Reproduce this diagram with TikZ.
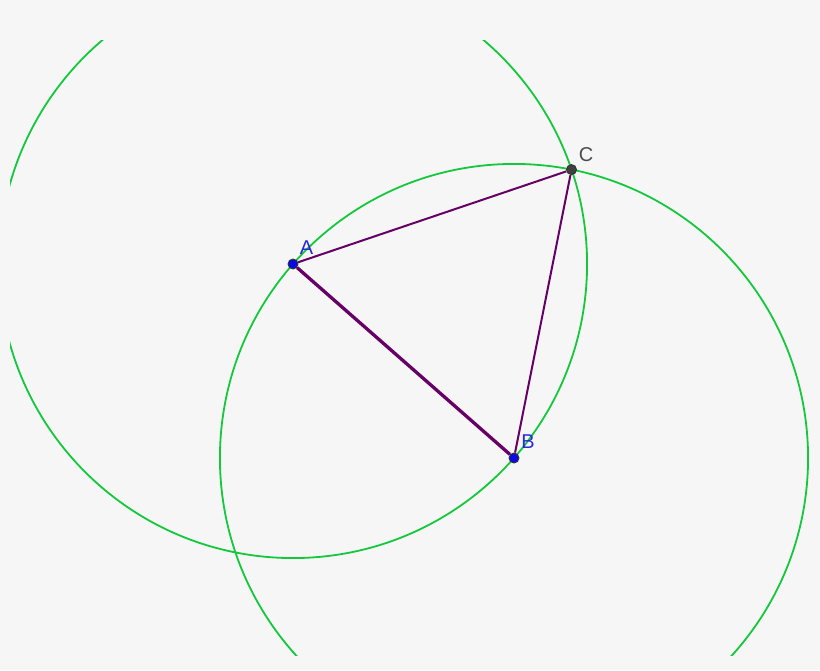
\documentclass[tikz,border=0pt]{standalone}
\usepackage{fontspec}
\setmainfont{Liberation Sans}
\usetikzlibrary{calc}
\definecolor{bggray}{RGB}{246,246,246}
\definecolor{arcgreen}{RGB}{20,200,60}
\definecolor{segpurple}{RGB}{102,0,102}
\definecolor{ptblue}{RGB}{10,10,230}
\definecolor{lblblue}{RGB}{40,40,220}
\definecolor{ptgray}{RGB}{64,64,64}

\begin{document}
\begin{tikzpicture}[x=1pt, y=-1pt,
  arc/.style={arcgreen, line width=1.8pt},
  seg/.style={segpurple, line width=2pt},
  pt/.style={circle, draw=black!80, line width=0.9pt, inner sep=0pt, minimum size=10pt},
  lbl/.style={font=\fontsize{20}{22}\selectfont, inner sep=0pt}]

\fill[bggray] (0,0) rectangle (820,670);
\useasboundingbox (0,0) rectangle (820,670);

\coordinate (a) at (293,264);
\coordinate (b) at (514,458);
\coordinate (c) at ($(a)!1!60:(b)$);

% circles
\begin{scope}
\clip (10,40) rectangle (830,655);
\draw[arc] let \p1=($(b)-(a)$), \n1={veclen(\x1,\y1)} in (a) circle (\n1);
\draw[arc] let \p1=($(b)-(a)$), \n1={veclen(\x1,\y1)} in (b) circle (\n1);
\end{scope}

% points
\node[pt, fill=ptblue] (A) at (a) {};
\node[pt, fill=ptblue] (B) at (b) {};
\node[pt, fill=ptgray] (C) at (c) {};

% triangle
\draw[seg, line width=3.3pt] (A) -- (B);
\draw[seg] (A) -- (C);
\draw[seg] (B) -- (C);

\node[lbl, lblblue] (labA) at (306.5,248) {A};
\node[lbl, lblblue] (labB) at (528,442) {B};
\node[lbl, black!70] (labC) at (586,154.5) {C};

\end{tikzpicture}
\end{document}
